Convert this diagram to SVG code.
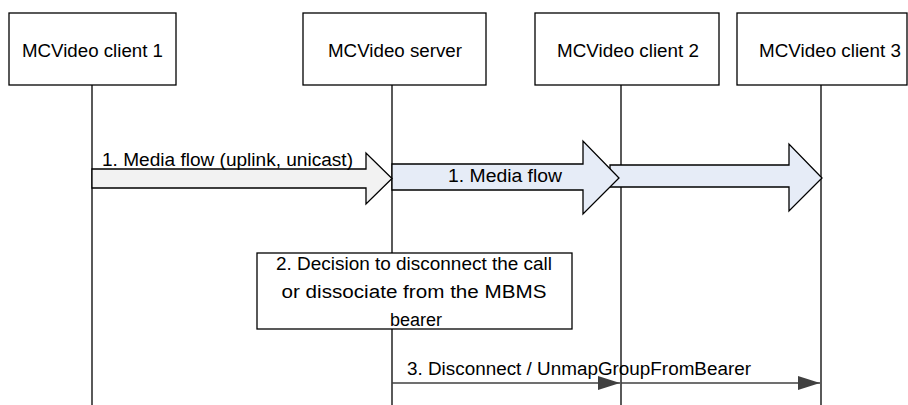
<svg xmlns="http://www.w3.org/2000/svg" width="908" height="405" viewBox="0 0 908 405">
<defs>
<style>
.box{fill:#fff;stroke:#000;stroke-width:1.3}
.life{stroke:#000;stroke-width:1.3;fill:none}
.t{font-family:"Liberation Sans",Arial,sans-serif;font-size:18px;fill:#000}
.fat1{fill:#f2f2f2;stroke:#000;stroke-width:1.3}
.fat2{fill:#e6ecf7;stroke:#000;stroke-width:1.3}
.msg{stroke:#404040;stroke-width:1.6;fill:none}
</style>
<marker id="ah" viewBox="0 0 22 14" refX="22" refY="7" markerWidth="22" markerHeight="14" markerUnits="userSpaceOnUse" orient="auto">
<path d="M0,0 L22,7 L0,14 Z" fill="#404040"/>
</marker>
</defs>
<g id="lifelines">
<line class="life" x1="92" y1="85" x2="92" y2="405"/>
<line class="life" x1="392" y1="85" x2="392" y2="405"/>
<line class="life" x1="621" y1="85" x2="621" y2="405"/>
<line class="life" x1="821" y1="85" x2="821" y2="405"/>
</g>
<g id="client1">
<rect class="box" x="9" y="13" width="167" height="72"/>
<text class="t" x="22" y="57" textLength="141" lengthAdjust="spacingAndGlyphs">MCVideo client 1</text>
</g>
<g id="server">
<rect class="box" x="303" y="13" width="183" height="72"/>
<text class="t" x="328" y="57" textLength="134" lengthAdjust="spacingAndGlyphs">MCVideo server</text>
</g>
<g id="client2">
<rect class="box" x="535" y="13" width="184" height="72"/>
<text class="t" x="557" y="57" textLength="142" lengthAdjust="spacingAndGlyphs">MCVideo client 2</text>
</g>
<g id="client3">
<rect class="box" x="737" y="13" width="170" height="72"/>
<text class="t" x="759" y="57" textLength="142" lengthAdjust="spacingAndGlyphs">MCVideo client 3</text>
</g>
<g id="connectors">
<polygon class="fat2" points="610,165 789,165 789,144 822,178 789,211 789,187 610,187"/>
<polygon class="fat2" points="392,164 583,164 583,141 619,178 583,214 583,190 392,190"/>
<polygon class="fat1" points="92,169 366,169 366,153 392,178.5 366,204 366,188 92,188"/>
<text class="t" x="102" y="166" textLength="251" lengthAdjust="spacingAndGlyphs">1. Media flow (uplink, unicast)</text>
<text class="t" x="448" y="182" textLength="114" lengthAdjust="spacingAndGlyphs">1. Media flow</text>
<line class="msg" x1="392" y1="383" x2="620" y2="383" marker-end="url(#ah)"/>
<line class="msg" x1="621" y1="383" x2="820" y2="383" marker-end="url(#ah)"/>
<text class="t" x="407" y="375" textLength="344" lengthAdjust="spacingAndGlyphs">3. Disconnect / UnmapGroupFromBearer</text>
</g>
<g id="decision">
<rect class="box" x="257" y="253" width="315" height="76"/>
<text class="t" x="414" y="270" text-anchor="middle" textLength="276" lengthAdjust="spacingAndGlyphs">2. Decision to disconnect the call</text>
<text class="t" x="414" y="298" text-anchor="middle" textLength="265" lengthAdjust="spacingAndGlyphs">or dissociate from the MBMS</text>
<text class="t" x="416" y="326" text-anchor="middle">bearer</text>
</g>
</svg>
